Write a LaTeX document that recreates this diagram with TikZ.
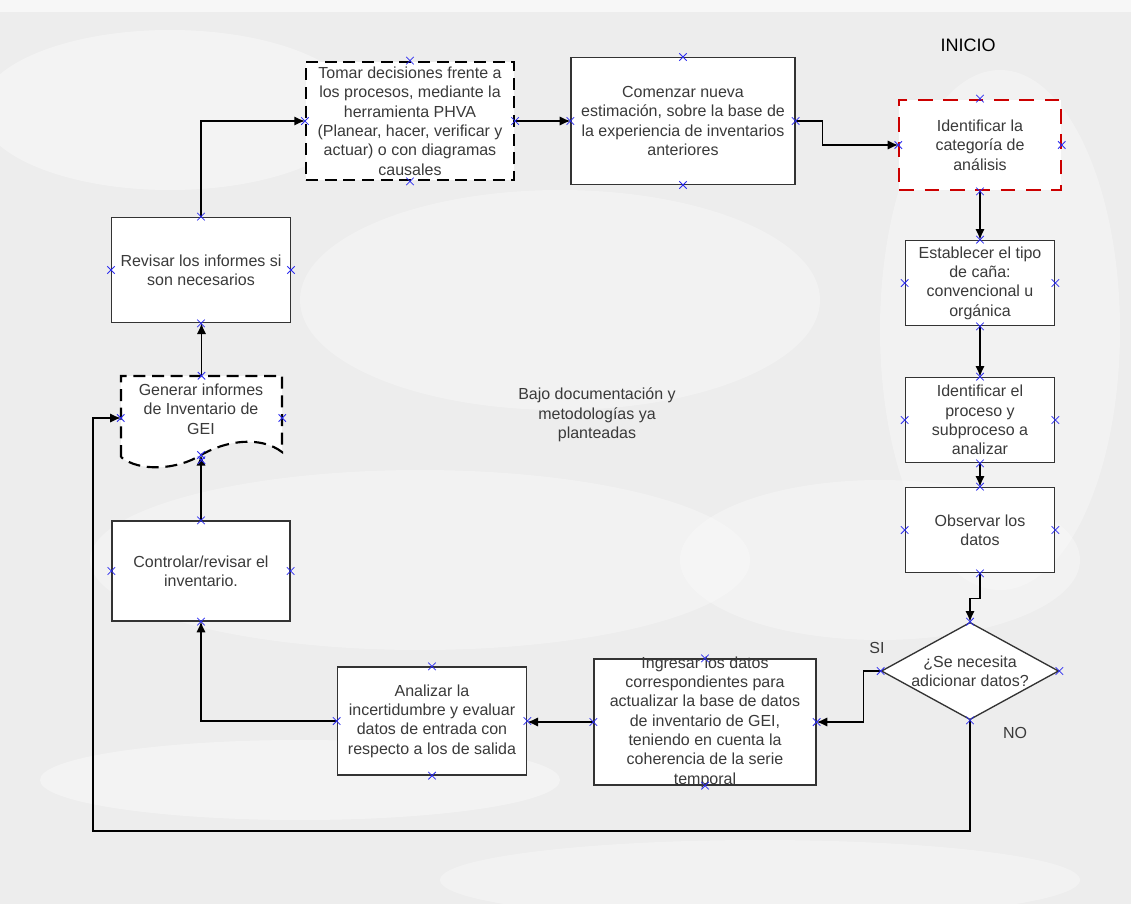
\documentclass[tikz,border=0pt]{standalone}
\usepackage{fontspec}
\setmainfont{Liberation Sans}
\usetikzlibrary{shapes.geometric,shapes.misc,arrows.meta}
\definecolor{fondo}{HTML}{EDEDED}
\definecolor{txtgris}{HTML}{3A3A3A}
\definecolor{rojo}{HTML}{CC0000}
\definecolor{cpazul}{HTML}{2A2AF0}
\begin{document}
\begin{tikzpicture}[x=.75pt, y=-.75pt, >={Latex[length=8pt,width=7pt]},
  font=\fontsize{12}{14.5}\selectfont,
  caja/.style={draw=black!80, line width=1pt, fill=white, text=txtgris, align=center, inner sep=1pt},
  cajatrazo/.style={caja, draw=black, line width=1.6pt, dash pattern=on 9pt off 5pt},
  cajaroja/.style={caja, draw=rojo, line width=1.6pt, dash pattern=on 11pt off 8pt},
  decision/.style={caja, diamond, aspect=1.8, inner sep=0pt},
  texto/.style={text=txtgris, align=center},
  flecha/.style={->, line width=1.1pt},
  cpunto/.style={cross out, draw=cpazul, minimum size=5pt, inner sep=0pt, line width=.6pt}]
\useasboundingbox (0,0) rectangle (1131,904);
% fondo
\fill[fondo] (0,0) rectangle (1131,904);
\begin{scope}
\clip (0,0) rectangle (1131,904);
\fill[white, opacity=.6] (0,0) rectangle (1131,12);
\fill[white, opacity=.35] (170,110) ellipse (190 and 80);
\fill[white, opacity=.3] (560,300) ellipse (260 and 110);
\fill[white, opacity=.3] (1000,330) ellipse (120 and 260);
\fill[white, opacity=.3] (420,560) ellipse (330 and 90);
\fill[white, opacity=.3] (880,560) ellipse (200 and 80);
\fill[white, opacity=.35] (300,780) ellipse (260 and 40);
\fill[white, opacity=.3] (760,880) ellipse (320 and 40);
\end{scope}

% nodos
\node[font=\fontsize{13.5}{16}\selectfont] (inicio) at (968,45) {INICIO};
\node[cajatrazo, minimum width=156pt, minimum height=89pt] (tomar) at (410,121)
  {Tomar decisiones frente a\\los procesos, mediante la\\herramienta PHVA\\(Planear, hacer, verificar y\\actuar) o con diagramas\\causales};
\node[caja, minimum width=168pt, minimum height=95pt] (comenzar) at (683,121)
  {Comenzar nueva\\estimación, sobre la base de\\la experiencia de inventarios\\anteriores};
\node[cajaroja, minimum width=121pt, minimum height=68pt] (categoria) at (980,145)
  {Identificar la\\categoría de\\análisis};
\node[caja, minimum width=112pt, minimum height=64pt] (establecer) at (980,283)
  {Establecer el tipo\\de caña:\\convencional u\\orgánica};
\node[caja, minimum width=112pt, minimum height=64pt] (proceso) at (980,420)
  {Identificar el\\proceso y\\subproceso a\\analizar};
\node[caja, minimum width=112pt, minimum height=64pt] (observar) at (980,530)
  {Observar los\\datos};
\node[decision, minimum width=133pt, minimum height=73pt] (decision) at (970,671)
  {¿Se necesita\\adicionar datos?};
\node[caja, minimum width=166.5pt, minimum height=94.5pt] (ingresar) at (705,722) {};
\node[texto] (ingresar-texto) at (705,722)
  {Ingresar los datos\\correspondientes para\\actualizar la base de datos\\de inventario de GEI,\\teniendo en cuenta la\\coherencia de la serie\\temporal};
\node[caja, minimum width=142pt, minimum height=81pt] (analizar) at (432,721)
  {Analizar la\\incertidumbre y evaluar\\datos de entrada con\\respecto a los de salida};
\node[caja, minimum width=133.5pt, minimum height=75pt] (controlar) at (201,571)
  {Controlar/revisar el\\inventario.};
\node[caja, minimum width=134pt, minimum height=79pt] (revisar) at (201,270)
  {Revisar los informes si\\son necesarios};

% documento
\draw[fill=white, line width=1.6pt, dash pattern=on 9pt off 5pt]
  (121,457) -- (121,376) -- (282,376) -- (282,452)
  .. controls (261,436) and (227,440) .. (201,455)
  .. controls (177,470) and (139,472) .. (121,457);
\node[minimum width=120.75pt, minimum height=63pt, inner sep=0pt] (generar) at (201.5,418) {};
\node[texto] (generar-texto) at (201,409) {Generar informes\\de Inventario de\\GEI};
\coordinate (generar-onda) at (201,455);
\coordinate (retorno) at (93,831);

\node[texto] (bajo) at (597,415) {Bajo documentación y\\metodologías ya\\planteadas};
\node[text=txtgris] (si) at (877,648) {SI};
\node[text=txtgris] (no) at (1015,733) {NO};

% flechas
\draw[flecha] (revisar.north) |- (tomar.west);
\draw[flecha] (tomar.east) -- (comenzar.west);
\draw[flecha] (comenzar.east) -- ++(27,0) |- (categoria.west);
\draw[flecha] (categoria.south) -- (establecer.north);
\draw[flecha] (establecer.south) -- (proceso.north);
\draw[flecha] (proceso.south) -- (observar.north);
\draw[flecha] (observar.south) -- ++(0,25) -| (decision.north);
\draw[flecha] (decision.west) -- ++(-17,0) |- (ingresar.east);
\draw[flecha] (ingresar.west) -- (ingresar.west -| analizar.east);
\draw[flecha] (analizar.west) -| (controlar.south);
\draw[flecha] (controlar.north) -- (generar-onda);
\draw[flecha] (generar.north) -- (generar.north |- revisar.south);
\draw[flecha] (decision.south) |- (retorno) |- (generar.west);

% puntos de conexion
\foreach \n in {tomar,comenzar,categoria,establecer,proceso,observar,decision,ingresar,analizar,controlar,revisar,generar}
  \foreach \a in {north,south,east,west}
    \node[cpunto] (cp-\n-\a) at (\n.\a) {};
\node[cpunto] (cp-generar-onda) at (generar-onda) {};
\end{tikzpicture}
\end{document}
